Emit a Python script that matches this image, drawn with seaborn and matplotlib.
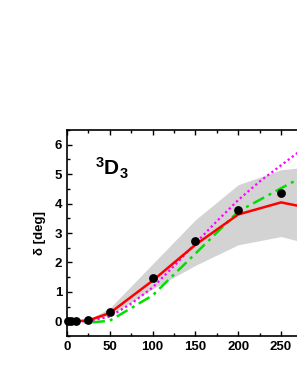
import matplotlib
matplotlib.use("Agg")
import matplotlib.pyplot as plt
from matplotlib.ticker import MultipleLocator
import seaborn as sns

# data
dot_x = [1, 5, 10, 25, 50, 100, 150, 200, 250]
dot_y = [0.0, 0.0, 0.0, 0.05, 0.33, 1.47, 2.74, 3.77, 4.37]

red_x = [0, 10, 25, 50, 100, 150, 200, 250, 300]
red_y = [0.0, 0.0, 0.03, 0.28, 1.38, 2.6, 3.63, 4.04, 3.75]

mag_x = [0, 25, 50, 75, 100, 125, 150, 175, 200, 225, 250, 275, 300]
mag_y = [-0.02, 0.0, 0.16, 0.6, 1.15, 1.88, 2.65, 3.4, 4.12, 4.75, 5.3, 5.85, 6.35]

grn_x = [0, 25, 50, 100, 150, 200, 250, 300]
grn_y = [-0.05, -0.05, 0.02, 0.88, 2.3, 3.73, 4.52, 5.3]

band_x = [0, 25, 50, 100, 150, 200, 250, 300]
band_lo = [0.0, 0.0, 0.2, 1.1, 1.9, 2.6, 2.88, 2.5]
band_hi = [0.0, 0.05, 0.45, 1.95, 3.45, 4.64, 5.15, 5.3]

sns.set_style("ticks")
plt.rcParams["font.family"] = ["Liberation Sans", "DejaVu Sans"]
plt.rcParams["mathtext.fontset"] = "custom"
plt.rcParams["mathtext.bf"] = "Liberation Sans:bold"
plt.rcParams["mathtext.rm"] = "Liberation Sans"
for k in ["text.color", "axes.labelcolor", "xtick.color", "ytick.color", "axes.edgecolor"]:
    plt.rcParams[k] = "black"

fig = plt.figure(figsize=(2.97, 3.84), dpi=100)
ax = fig.add_axes([67 / 297, 48 / 384, 256 / 297, 206 / 384])

ax.fill_between(band_x, band_lo, band_hi, color="#d3d3d3", lw=0, zorder=1)

sns.lineplot(x=mag_x, y=mag_y, ax=ax, color="#ff00ff", lw=1.6,
             linestyle=(0, (1, 1.3)), zorder=3)
sns.lineplot(x=grn_x, y=grn_y, ax=ax, color="#00e000", lw=1.8,
             linestyle=(0, (5, 2, 1.2, 2)), zorder=3)
sns.lineplot(x=red_x, y=red_y, ax=ax, color="#ff0000", lw=1.8, zorder=4)
sns.scatterplot(x=dot_x, y=dot_y, ax=ax, color="black", s=40,
                edgecolor="black", linewidth=0, zorder=5, clip_on=False)

ax.set_xlim(0, 299)
ax.set_ylim(-0.5, 6.5)
ax.xaxis.set_major_locator(MultipleLocator(50))
ax.xaxis.set_minor_locator(MultipleLocator(25))
ax.yaxis.set_major_locator(MultipleLocator(1))
ax.yaxis.set_minor_locator(MultipleLocator(0.5))
ax.tick_params(which="both", direction="in", top=True, right=True,
               width=1.0, labelsize=9.5, colors="black")
ax.tick_params(which="major", length=3.5)
ax.tick_params(which="minor", length=2)
for lab in ax.get_xticklabels() + ax.get_yticklabels():
    lab.set_fontweight("bold")
for sp in ax.spines.values():
    sp.set_linewidth(1.2)
    sp.set_color("black")
    sp.set_visible(True)

ax.set_ylabel("δ [deg]", fontsize=9.5, fontweight="bold", labelpad=6)
ax.text(0.11, 0.815, r"$\mathbf{^{3}D_{3}}$", transform=ax.transAxes,
        fontsize=15, ha="left", va="center")

fig.savefig("out.png", dpi=100)
